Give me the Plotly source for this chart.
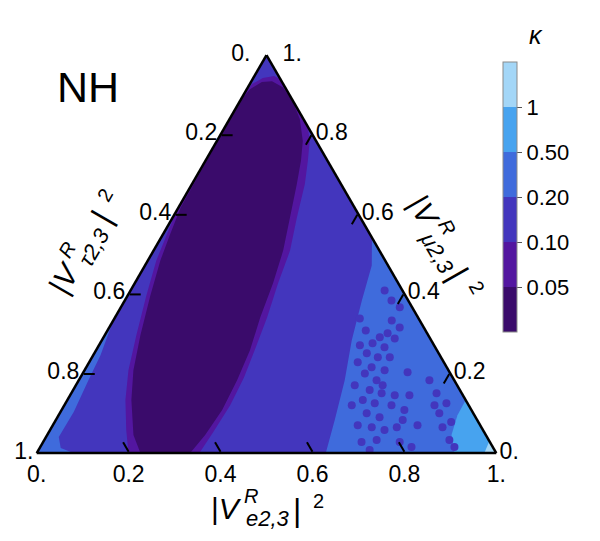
import numpy as np
import plotly.graph_objects as go

# κ bins (colour bar) and their colours, darkest = smallest κ
kappa_edges = [0.05, 0.10, 0.20, 0.50, 1.0]
kappa_labels = ["0.05", "0.10", "0.20", "0.50", "1"]
kappa_colors = ["#3a0b6b", "#5316a0", "#4336bd", "#3f6bdc", "#47a3ef", "#a3d6f7"]

# region outlines, as (|V_e|^2, |V_mu|^2); |V_tau|^2 = 1 - e - mu
# whole triangle (0.10 - 0.20)
base_e = [0.0, 1.0, 0.0]
base_mu = [1.0, 0.0, 0.0]

# thin strip along the tau side (0.20 - 0.50)
strip_e = [0.0, 0.016, 0.021, 0.029, 0.028, 0.046, 0.08, 0.0]
strip_mu = [0.333, 0.2455, 0.183, 0.103, 0.040, 0.0125, 0.0, 0.0]

# lower right region (0.20 - 0.50)
right_e = [0.459, 0.4935, 0.516, 0.544, 0.5787, 0.607, 0.629, 1.0]
right_mu = [0.541, 0.471, 0.383, 0.283, 0.183, 0.083, 0.0, 0.0]

# corner (0.50 - 1)
corner_e = [0.867, 0.868, 0.88, 0.909, 1.0]
corner_mu = [0.133, 0.095, 0.045, 0.0, 0.0]

# very tip (> 1)
tip_e = [0.970, 0.974, 1.0]
tip_mu = [0.030, 0.0, 0.0]

# rim of the band (0.05 - 0.10)
rim_e = [0.0, 0.005, 0.021, 0.043, 0.082, 0.1245, 0.168, 0.202, 0.223, 0.2455,
         0.2705, 0.297, 0.312, 0.331, 0.344, 0.356, 0.361, 0.358, 0.354, 0.1996,
         0.166, 0.1265, 0.0956, 0.069, 0.0406, 0.0185, 0.009, 0.0]
rim_mu = [0.897, 0.927, 0.942, 0.947, 0.929, 0.892, 0.839, 0.784, 0.734, 0.676,
          0.591, 0.5085, 0.426, 0.341, 0.2655, 0.190, 0.120, 0.0526, 0.0, 0.0,
          0.0576, 0.133, 0.208, 0.2956, 0.396, 0.4835, 0.546, 0.609]

# core of the band (< 0.05)
core_e = [0.0, 0.007, 0.024, 0.045, 0.076, 0.115, 0.153, 0.187, 0.208, 0.228,
          0.2555, 0.282, 0.301, 0.316, 0.335, 0.3445, 0.3495, 0.344, 0.334, 0.2256,
          0.188, 0.1395, 0.1064, 0.0778, 0.0493, 0.0273, 0.0152, 0.005]
core_mu = [0.884, 0.914, 0.932, 0.934, 0.919, 0.884, 0.839, 0.784, 0.734, 0.676,
           0.591, 0.5085, 0.426, 0.341, 0.258, 0.183, 0.108, 0.045, 0.0, 0.0,
           0.045, 0.133, 0.208, 0.2956, 0.396, 0.4835, 0.551, 0.616]

# scattered points at the edge of the lower right region
dots_e = [0.607, 0.606, 0.613, 0.601, 0.635, 0.593, 0.624, 0.593, 0.622, 0.648,
          0.621, 0.614, 0.648, 0.6455, 0.6755, 0.643, 0.673, 0.668, 0.701, 0.6965,
          0.728, 0.7234, 0.751, 0.755, 0.632, 0.795, 0.829, 0.826, 0.863, 0.8505,
          0.8817, 0.653, 0.6677, 0.712, 0.534, 0.562, 0.568, 0.5845, 0.607, 0.6255,
          0.6635, 0.693, 0.7065, 0.746, 0.776, 0.808, 0.7055, 0.5805, 0.553, 0.7385,
          0.7936, 0.7207, 0.763, 0.8055, 0.9015]
dots_mu = [0.366, 0.333, 0.301, 0.291, 0.288, 0.2755, 0.2655, 0.2505, 0.2405, 0.2405,
           0.2154, 0.200, 0.183, 0.158, 0.150, 0.133, 0.125, 0.100, 0.090, 0.065,
           0.0576, 0.0326, 0.065, 0.0827, 0.3156, 0.150, 0.125, 0.100, 0.0777, 0.065,
           0.0326, 0.208, 0.170, 0.120, 0.338, 0.308, 0.2705, 0.228, 0.170, 0.120,
           0.070, 0.0276, 0.145, 0.108, 0.0276, 0.015, 0.203, 0.383, 0.408, 0.145,
           0.070, 0.0075, 0.183, 0.120, 0.015]
dots_kappa = [0.15] * len(dots_e)

ticks = [0, 0.2, 0.4, 0.6, 0.8, 1]
tick_text = ["1.", "0.8", "0.6", "0.4", "0.2", "0."]

FONT = "Arial, Liberation Sans, sans-serif"
NB = "\u00a0"


# page sits 8px in from the window corner
def px(x):
    return (x - 8) / 600


def py(y):
    return 1 - (y - 8) / 541


def tau_of(e, mu):
    return [1 - x - y for x, y in zip(e, mu)]


def region(e, mu, color):
    # a = mu (top), b = tau (bottom left), c = e (bottom right)
    return go.Scatterternary(a=mu, b=tau_of(e, mu), c=e, mode="lines", fill="toself",
                             fillcolor=color, line=dict(width=0, color=color),
                             hoverinfo="skip", showlegend=False)


def axis_title(cx, cy, angle, sub):
    # pieces of |V^R_sub|^2 placed along the reading direction
    parts = [("|<i>V</i>", -39, -2, 30), ("<i>R</i>", -14, -14, 20),
             ("<i>" + sub + "</i>", 3, 8, 22), ("|", 32, 0, 32), ("2", 53, -9, 20)]
    t = np.radians(angle)
    out = []
    for text, u, v, size in parts:
        x = cx + u * np.cos(t) - v * np.sin(t)
        y = cy + u * np.sin(t) + v * np.cos(t)
        out.append(dict(text=text, x=px(x), y=py(y), xref="paper", yref="paper",
                        xanchor="center", yanchor="middle", textangle=angle,
                        showarrow=False, font=dict(size=size)))
    return out


fig = go.Figure()
fig.add_trace(region(base_e, base_mu, kappa_colors[2]))
fig.add_trace(region(strip_e, strip_mu, kappa_colors[3]))
fig.add_trace(region(right_e, right_mu, kappa_colors[3]))
fig.add_trace(region(corner_e, corner_mu, kappa_colors[4]))
fig.add_trace(region(tip_e, tip_mu, kappa_colors[5]))
fig.add_trace(region(rim_e, rim_mu, kappa_colors[1]))
fig.add_trace(region(core_e, core_mu, kappa_colors[0]))

# discrete colour scale on bin index 0..6
nb = len(kappa_colors)
cscale = []
for i, c in enumerate(kappa_colors):
    cscale.append([i / nb, c])
    cscale.append([(i + 1) / nb, c])
dot_bins = np.searchsorted(kappa_edges, dots_kappa) + 0.5

fig.add_trace(go.Scatterternary(
    a=dots_mu, b=tau_of(dots_e, dots_mu), c=dots_e, mode="markers",
    marker=dict(size=8, color=dot_bins, colorscale=cscale, cmin=0, cmax=nb,
                showscale=True,
                colorbar=dict(x=px(503), xanchor="left", y=py(197), yanchor="middle",
                              len=270 / 541, thickness=14, xpad=0, ypad=0,
                              outlinecolor="#8a8a8a", outlinewidth=1,
                              tickmode="array", tickvals=list(range(1, nb)),
                              ticktext=kappa_labels, ticks="outside", ticklen=5,
                              tickcolor="#555", tickfont=dict(size=22, color="black", family=FONT))),
    hoverinfo="skip", showlegend=False))

axis = dict(showgrid=False, showline=True, linecolor="black", linewidth=2.5,
            ticks="inside", ticklen=11, tickwidth=2, tickcolor="black",
            tickmode="array", tickvals=ticks, ticktext=tick_text,
            tickfont=dict(size=23, color="black", family=FONT), title=dict(text=""))
aaxis = dict(axis, ticktext=tick_text[:-1] + ["0." + NB * 2])
caxis = dict(axis, ticktext=[NB * 2 + "1."] + tick_text[1:])

annotations = [
    dict(text="NH", x=px(88), y=py(87), xref="paper", yref="paper",
         xanchor="center", yanchor="middle", showarrow=False, font=dict(size=43)),
    dict(text="<i>κ</i>", x=px(536), y=py(35), xref="paper", yref="paper",
         xanchor="center", yanchor="middle", showarrow=False, font=dict(size=25)),
]
annotations += axis_title(265, 510, 0, "e2,3")
annotations += axis_title(86, 245, -60, "τ2,3")
annotations += axis_title(442, 246, 60, "μ2,3")

fig.update_layout(
    width=600, height=541,
    margin=dict(l=0, r=0, t=0, b=0),
    paper_bgcolor="white",
    font=dict(family=FONT, color="black"),
    ternary=dict(sum=1, bgcolor="white",
                 domain=dict(x=[px(36), px(497)], y=[py(453), py(55)]),
                 aaxis=aaxis, baxis=axis, caxis=caxis),
    annotations=annotations,
)

fig.write_html("out.html")
